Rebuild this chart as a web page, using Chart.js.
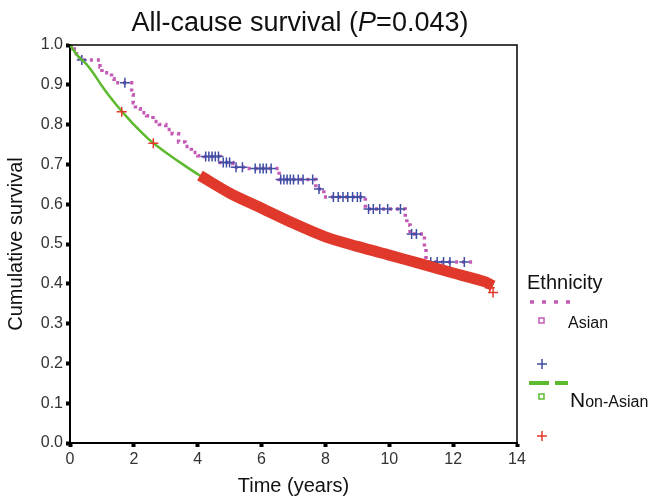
<!DOCTYPE html>
<html>
<head>
<meta charset="utf-8">
<script src="https://cdn.jsdelivr.net/npm/chart.js@4"></script>
<style>
  html, body { margin: 0; padding: 0; background: #fff; }
  #wrap { width: 648px; height: 502px; position: relative; }
</style>
</head>
<body>
<div id="wrap"><canvas id="survChart" width="648" height="502"></canvas></div>
<script>
// Asian group - Kaplan-Meier steps (time in years, cumulative survival)
const asianTime = [0, 0.1, 0.2, 0.3, 0.94, 1.0, 1.3, 1.38, 1.93, 1.98, 2.05, 2.2, 2.4, 2.6, 2.8, 3.0, 3.2, 3.4, 3.6, 3.8, 4.0, 4.2, 4.7, 5.1, 5.5, 6.55, 7.7, 7.95, 9.25, 10.5, 10.55, 10.65, 11.1, 11.15, 12.6];
const asianSurv = [1.0, 0.99, 0.978, 0.962, 0.945, 0.93, 0.915, 0.905, 0.875, 0.855, 0.84, 0.83, 0.822, 0.808, 0.8, 0.788, 0.777, 0.756, 0.745, 0.73, 0.722, 0.72, 0.705, 0.693, 0.69, 0.662, 0.638, 0.618, 0.588, 0.565, 0.548, 0.525, 0.49, 0.455, 0.455];

// Asian censored cases (blue +)
const asianCensT = [0.37, 1.72, 4.25, 4.35, 4.45, 4.55, 4.65, 4.8, 4.9, 5.0, 5.2, 5.4, 5.8, 5.95, 6.05, 6.15, 6.3, 6.6, 6.7, 6.8, 6.9, 7.0, 7.15, 7.3, 7.6, 7.8, 8.25, 8.4, 8.55, 8.7, 8.85, 9.0, 9.1, 9.35, 9.5, 9.7, 9.95, 10.35, 10.7, 10.85, 11.3, 11.5, 11.7, 11.9, 12.35];
const asianCensS = [0.962, 0.905, 0.72, 0.72, 0.72, 0.72, 0.72, 0.705, 0.705, 0.705, 0.693, 0.693, 0.69, 0.69, 0.69, 0.69, 0.69, 0.662, 0.662, 0.662, 0.662, 0.662, 0.662, 0.662, 0.662, 0.638, 0.618, 0.618, 0.618, 0.618, 0.618, 0.618, 0.618, 0.588, 0.588, 0.588, 0.588, 0.588, 0.525, 0.525, 0.455, 0.455, 0.455, 0.455, 0.455];

// Non-Asian group - survival curve
const nonAsianTime = [0, 0.25, 0.5, 0.75, 1.0, 1.25, 1.5, 1.75, 2.0, 2.25, 2.5, 2.75, 3.0, 3.5, 4.07, 5, 6, 7, 8, 9, 10, 11, 12, 13, 13.25];
const nonAsianSurv = [1.0, 0.972, 0.953, 0.927, 0.897, 0.87, 0.845, 0.822, 0.8, 0.78, 0.761, 0.745, 0.73, 0.702, 0.672, 0.628, 0.59, 0.552, 0.518, 0.494, 0.472, 0.45, 0.427, 0.405, 0.395];

// Non-Asian censored cases: dense band after 4 years plus single marks
const nonAsianBandFrom = 4.07;
const nonAsianCensT = [1.62, 2.61, 13.15, 13.25];
const nonAsianCensS = [0.832, 0.753, 0.39, 0.378];

const xTicks = [0, 2, 4, 6, 8, 10, 12, 14];

const MAGENTA = '#c45ab5';
const BLUE = '#3e4ea2';
const GREEN = '#5dba2f';
const RED = '#e0392c';
const FONT = '"Liberation Sans", Arial, sans-serif';

const toPts = (ts, ss) => ts.map((t, i) => ({ x: t, y: ss[i] }));
const bandPts = toPts(nonAsianTime, nonAsianSurv).filter(p => p.x >= nonAsianBandFrom);

const extras = {
  id: 'extras',
  afterDraw(chart) {
    const ctx = chart.ctx;
    const a = chart.chartArea;
    ctx.save();
    // frame top / right
    ctx.strokeStyle = '#000';
    ctx.lineWidth = 1.5;
    ctx.beginPath();
    ctx.moveTo(a.left, a.top);
    ctx.lineTo(a.right, a.top);
    ctx.lineTo(a.right, a.bottom);
    ctx.stroke();

    // title with italic P
    const tf = '27px ' + FONT;
    const tfi = 'italic 27px ' + FONT;
    const p1 = 'All-cause survival (', p2 = 'P', p3 = '=0.043)';
    ctx.font = tf;
    const w1 = ctx.measureText(p1).width, w3 = ctx.measureText(p3).width;
    ctx.font = tfi;
    const w2 = ctx.measureText(p2).width;
    let x = 300 - (w1 + w2 + w3) / 2;
    ctx.fillStyle = '#111';
    ctx.textBaseline = 'alphabetic';
    ctx.textAlign = 'left';
    ctx.font = tf; ctx.fillText(p1, x, 31); x += w1;
    ctx.font = tfi; ctx.fillText(p2, x, 31); x += w2;
    ctx.font = tf; ctx.fillText(p3, x, 31);

    // legend
    ctx.font = '20px ' + FONT;
    ctx.fillText('Ethnicity', 527, 289);

    ctx.strokeStyle = MAGENTA;
    ctx.lineWidth = 3.5;
    ctx.setLineDash([4, 8]);
    ctx.beginPath(); ctx.moveTo(530, 302); ctx.lineTo(572, 302); ctx.stroke();
    ctx.setLineDash([]);
    ctx.lineWidth = 1.5;
    ctx.strokeRect(539, 318, 5, 5);
    ctx.font = '16px ' + FONT;
    ctx.fillText('Asian', 568, 328);

    const cross = (cx, cy, col) => {
      ctx.strokeStyle = col; ctx.lineWidth = 1.5;
      ctx.beginPath();
      ctx.moveTo(cx - 5, cy); ctx.lineTo(cx + 5, cy);
      ctx.moveTo(cx, cy - 5); ctx.lineTo(cx, cy + 5);
      ctx.stroke();
    };
    cross(542, 364, BLUE);

    ctx.strokeStyle = GREEN;
    ctx.lineWidth = 4;
    ctx.setLineDash([20, 6]);
    ctx.beginPath(); ctx.moveTo(529, 383); ctx.lineTo(568, 383); ctx.stroke();
    ctx.setLineDash([]);
    ctx.lineWidth = 1.5;
    ctx.strokeRect(539, 394, 5, 5);
    ctx.font = '21px ' + FONT;
    ctx.fillText('N', 570, 407);
    const wn = ctx.measureText('N').width;
    ctx.font = '16px ' + FONT;
    ctx.fillText('on-Asian', 570 + wn, 407);

    cross(542, 436, RED);
    ctx.restore();
  }
};

new Chart(document.getElementById('survChart'), {
  type: 'line',
  data: {
    datasets: [
      {
        label: 'Non-Asian censored band',
        data: bandPts,
        borderColor: RED,
        borderWidth: 11,
        pointRadius: 0,
        tension: 0.3,
        order: 1,
      },
      {
        label: 'Non-Asian censored',
        data: toPts(nonAsianCensT, nonAsianCensS),
        showLine: false,
        pointStyle: 'cross',
        pointRadius: 5,
        borderColor: RED,
        pointBorderWidth: 1.5,
        order: 0,
      },
      {
        label: 'Non-Asian',
        data: toPts(nonAsianTime, nonAsianSurv),
        borderColor: GREEN,
        borderWidth: 2.5,
        pointRadius: 0,
        tension: 0.3,
        order: 2,
      },
      {
        label: 'Asian censored',
        data: toPts(asianCensT, asianCensS),
        showLine: false,
        pointStyle: 'cross',
        pointRadius: 5,
        borderColor: BLUE,
        pointBorderWidth: 1.5,
        order: 3,
      },
      {
        label: 'Asian',
        data: toPts(asianTime, asianSurv),
        borderColor: MAGENTA,
        borderWidth: 3.5,
        borderDash: [3, 4],
        stepped: 'before',
        pointRadius: 0,
        order: 4,
      },
    ],
  },
  options: {
    responsive: false,
    animation: false,
    layout: { padding: { left: 0, right: 131, top: 45, bottom: 0 } },
    plugins: {
      legend: { display: false },
      title: { display: false },
      tooltip: { enabled: false },
    },
    scales: {
      x: {
        type: 'linear',
        min: 0,
        max: 14,
        afterFit: (s) => { s.height = 59; },
        afterBuildTicks: (s) => { s.ticks = xTicks.map(v => ({ value: v })); },
        ticks: {
          color: '#333',
          padding: 3,
          font: { family: FONT, size: 16 },
        },
        grid: { drawOnChartArea: false, drawTicks: true, tickLength: 4, tickWidth: 4, tickColor: '#000' },
        border: { display: true, color: '#000', width: 2 },
        title: {
          display: true,
          text: 'Time (years)',
          color: '#111',
          font: { family: FONT, size: 20 },
        },
      },
      y: {
        min: 0,
        max: 1,
        afterFit: (s) => { s.width = 70; },
        ticks: {
          stepSize: 0.1,
          color: '#333',
          padding: 3,
          font: { family: FONT, size: 16 },
          callback: (v) => Number(v).toFixed(1),
        },
        grid: { drawOnChartArea: false, drawTicks: true, tickLength: 4, tickWidth: 4, tickColor: '#000' },
        border: { display: true, color: '#000', width: 2 },
        title: {
          display: true,
          text: 'Cumulative survival',
          color: '#111',
          font: { family: FONT, size: 20 },
        },
      },
    },
  },
  plugins: [extras],
});
</script>
</body>
</html>
